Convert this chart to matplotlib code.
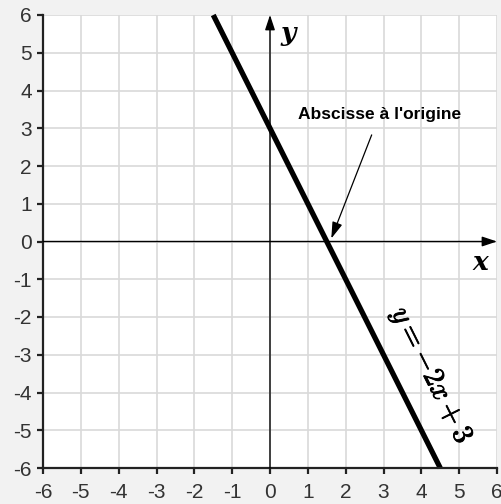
import matplotlib
matplotlib.use("Agg")
import matplotlib.pyplot as plt
import matplotlib.patheffects as pe
import numpy as np

# droite y = -2x + 3
slope = -2
intercept = 3
x_line = [-1.5, 4.5]
ticks = list(range(-6, 7))
root_x = -intercept / slope

plt.rcParams['font.family'] = ['Liberation Sans', 'DejaVu Sans']
plt.rcParams['axes.unicode_minus'] = False
plt.rcParams['mathtext.fontset'] = 'cm'

fig = plt.figure(figsize=(5.01, 5.04), dpi=100, facecolor='#f2f2f2')
ax = fig.add_axes([43 / 501, 36 / 504, 454 / 501, 453 / 504])
ax.set_facecolor('white')

ax.set_xlim(-6, 6)
ax.set_ylim(-6, 6)
ax.set_xticks(ticks)
ax.set_yticks(ticks)
ax.grid(True, color='#d9d9d9', linewidth=1.2)
ax.set_axisbelow(True)
for s in ['top', 'right']:
    ax.spines[s].set_visible(False)
for s in ['left', 'bottom']:
    ax.spines[s].set_color('#222222')
    ax.spines[s].set_linewidth(1.6)
ax.tick_params(length=4, width=1.6, color='#222222', labelsize=15,
               labelcolor='#333333')
ax.tick_params(axis='x', pad=7)
ax.tick_params(axis='y', pad=4)

# axes du repère avec flèches
ax.annotate('', xy=(6, 0), xytext=(-6, 0),
            arrowprops=dict(arrowstyle='-|>,head_length=0.9,head_width=0.3',
                            color='black', lw=1.0, shrinkA=0, shrinkB=0))
ax.annotate('', xy=(0, 6), xytext=(0, -6),
            arrowprops=dict(arrowstyle='-|>,head_length=0.9,head_width=0.3',
                            color='black', lw=1.0, shrinkA=0, shrinkB=0))
ax.text(5.55, -0.55, 'x', family='DejaVu Serif', style='italic',
        weight='bold', fontsize=19, ha='center', va='center')
ax.text(0.48, 5.5, 'y', family='DejaVu Serif', style='italic',
        weight='bold', fontsize=19, ha='center', va='center')

y_line = [slope * x + intercept for x in x_line]
ax.plot(x_line, y_line, color='black', linewidth=3.8, solid_capstyle='butt',
        clip_on=False)

ax.text(4.26, -3.56, r'$y=-2x+3$', fontsize=21, rotation=-63.4,
        rotation_mode='anchor', ha='center', va='center',
        path_effects=[pe.withStroke(linewidth=0.6, foreground='black')])

ax.annotate("Abscisse à l'origine", xy=(root_x + 0.12, 0.08), xytext=(2.9, 3.37),
            fontsize=12.5, weight='bold', ha='center', va='center',
            arrowprops=dict(arrowstyle='-|>,head_length=0.8,head_width=0.25',
                            color='black', lw=0.9, shrinkA=8, shrinkB=0))

fig.savefig('out.png', dpi=100, facecolor=fig.get_facecolor())
